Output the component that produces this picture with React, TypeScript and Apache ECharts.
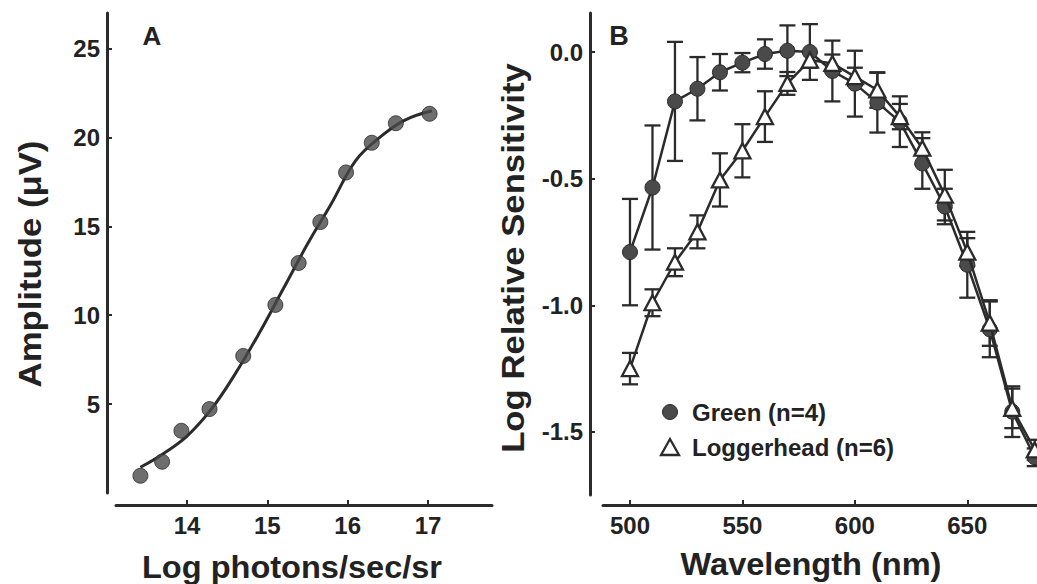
import React, { useEffect, useRef } from 'react';
import * as echarts from 'echarts';

// Panel A: intensity-response
const logPhotons = [13.42, 13.69, 13.93, 14.28, 14.7, 15.1, 15.39, 15.66, 15.98, 16.3, 16.6, 17.02];
const amplitude = [0.97, 1.76, 3.5, 4.72, 7.71, 10.58, 12.94, 15.24, 18.03, 19.7, 20.8, 21.33];
const fitLogPhotons = [13.42, 13.7, 14.0, 14.3, 14.6, 14.9, 15.2, 15.5, 15.8, 16.1, 16.4, 16.7, 17.05];
const fitAmplitude = [1.45, 2.2, 3.2, 4.7, 6.7, 9.0, 11.5, 14.0, 16.3, 18.7, 20.0, 20.95, 21.5];
const ampTicks = [5, 10, 15, 20, 25];
const photonTicks = [14, 15, 16, 17];

// Panel B: spectral sensitivity
const wavelengths = [500, 510, 520, 530, 540, 550, 560, 570, 580, 590, 600, 610, 620, 630, 640, 650, 660, 670, 680];
const greenMean = [-0.79, -0.535, -0.195, -0.145, -0.08, -0.042, -0.008, 0.005, 0.0, -0.075, -0.125, -0.2, -0.275, -0.44, -0.61, -0.84, -1.095, -1.42, -1.6];
const greenErr = [0.21, 0.245, 0.235, 0.125, 0.072, 0.038, 0.058, 0.1, 0.11, 0.12, 0.13, 0.118, 0.1, 0.1, 0.07, 0.13, 0.11, 0.1, 0.035];
const loggerMean = [-1.25, -0.99, -0.83, -0.71, -0.505, -0.39, -0.255, -0.124, -0.032, -0.045, -0.097, -0.15, -0.255, -0.38, -0.565, -0.79, -1.07, -1.407, -1.571];
const loggerErr = [0.062, 0.053, 0.055, 0.065, 0.105, 0.105, 0.1, 0.045, 0.03, 0.035, 0.035, 0.07, 0.05, 0.063, 0.1, 0.055, 0.09, 0.078, 0.04];
const wlTicks = [500, 550, 600, 650];
const sensTicks = [0, -0.5, -1, -1.5];

const FONT = '"Liberation Sans", Arial, sans-serif';
const INK = '#2b2b2b';
const TXT = '#222';

const axisLine = { show: true, onZero: false, lineStyle: { color: INK, width: 3 } };
const tickStyle = (vals: number[]) => ({ show: true, inside: true, length: 5, customValues: vals, lineStyle: { color: INK, width: 2 } });
const labelStyle = (vals: number[], margin: number, fmt?: (v: number) => string) => ({
  show: true,
  customValues: vals,
  margin,
  color: TXT,
  fontSize: 24,
  fontWeight: 'bold',
  fontFamily: FONT,
  formatter: fmt,
});

const errorRender = (params: any, api: any) => {
  const x = api.value(0);
  const lo = api.value(1);
  const hi = api.value(2);
  const p1 = api.coord([x, hi]);
  const p2 = api.coord([x, lo]);
  const hw = 8;
  const st = { stroke: INK, lineWidth: 2.3 };
  return {
    type: 'group',
    children: [
      { type: 'line', shape: { x1: p1[0], y1: p1[1], x2: p2[0], y2: p2[1] }, style: st },
      { type: 'line', shape: { x1: p1[0] - hw, y1: p1[1], x2: p1[0] + hw, y2: p1[1] }, style: st },
      { type: 'line', shape: { x1: p2[0] - hw, y1: p2[1], x2: p2[0] + hw, y2: p2[1] }, style: st },
    ],
  };
};

const titleText = (text: string, x: number, y: number, rot: number, sx: number, size = 31) => ({
  type: 'text',
  x,
  y,
  rotation: rot,
  scaleX: sx,
  style: {
    text,
    fill: TXT,
    fontSize: size,
    fontWeight: 'bold',
    fontFamily: FONT,
    textAlign: 'center',
    textVerticalAlign: 'middle',
  },
});

export default function App() {
  const ref = useRef<HTMLDivElement>(null);
  useEffect(() => {
    if (!ref.current) return;
    const chart = echarts.init(ref.current, undefined, { renderer: 'svg' });
    const option: any = {
      animation: false,
      backgroundColor: '#fff',
      grid: [
        { left: 116, top: 13, width: 376, height: 480 },
        { left: 603, top: 13, width: 434, height: 482 },
      ],
      xAxis: [
        {
          type: 'value', gridIndex: 0, min: 13.116, max: 17.797, offset: 12,
          axisLine, axisTick: tickStyle(photonTicks), axisLabel: labelStyle(photonTicks, 8),
          splitLine: { show: false },
        },
        {
          type: 'value', gridIndex: 1, min: 488, max: 681, offset: 10,
          axisLine, axisTick: tickStyle(wlTicks), axisLabel: labelStyle(wlTicks, 8),
          splitLine: { show: false },
        },
      ],
      yAxis: [
        {
          type: 'value', gridIndex: 0, min: 0, max: 27, offset: 9,
          axisLine, axisTick: tickStyle(ampTicks), axisLabel: labelStyle(ampTicks, 7),
          splitLine: { show: false },
        },
        {
          type: 'value', gridIndex: 1, min: -1.749, max: 0.154, offset: 13,
          axisLine, axisTick: tickStyle(sensTicks),
          axisLabel: labelStyle(sensTicks, 7, (v: number) => v.toFixed(1)),
          splitLine: { show: false },
        },
      ],
      series: [
        {
          name: 'Fit',
          type: 'line',
          xAxisIndex: 0, yAxisIndex: 0,
          data: fitLogPhotons.map((x, i) => [x, fitAmplitude[i]]),
          smooth: 0.4,
          showSymbol: false,
          lineStyle: { color: INK, width: 3 },
          z: 2,
        },
        {
          name: 'Amplitude',
          type: 'scatter',
          xAxisIndex: 0, yAxisIndex: 0,
          data: logPhotons.map((x, i) => [x, amplitude[i]]),
          symbol: 'circle',
          symbolSize: 15,
          itemStyle: { color: '#4a4a4a', borderColor: '#2a2a2a', borderWidth: 1 },
          z: 3,
        },
        {
          name: 'Green error',
          type: 'custom',
          xAxisIndex: 1, yAxisIndex: 1,
          data: wavelengths.map((w, i) => [w, greenMean[i] - greenErr[i], greenMean[i] + greenErr[i]]),
          encode: { x: 0, y: [1, 2] },
          renderItem: errorRender,
          z: 1,
        },
        {
          name: 'Loggerhead error',
          type: 'custom',
          xAxisIndex: 1, yAxisIndex: 1,
          data: wavelengths.map((w, i) => [w, loggerMean[i] - loggerErr[i], loggerMean[i] + loggerErr[i]]),
          encode: { x: 0, y: [1, 2] },
          renderItem: errorRender,
          z: 1,
        },
        {
          name: 'Green (n=4)',
          type: 'line',
          xAxisIndex: 1, yAxisIndex: 1,
          data: wavelengths.map((w, i) => [w, greenMean[i]]),
          symbol: 'circle',
          symbolSize: 15,
          showAllSymbol: true,
          lineStyle: { color: INK, width: 2.5 },
          itemStyle: { color: '#4a4a4a', borderColor: '#2a2a2a', borderWidth: 1 },
          z: 2,
        },
        {
          name: 'Loggerhead (n=6)',
          type: 'line',
          xAxisIndex: 1, yAxisIndex: 1,
          data: wavelengths.map((w, i) => [w, loggerMean[i]]),
          symbol: 'triangle',
          symbolSize: [16, 15],
          showAllSymbol: true,
          lineStyle: { color: INK, width: 2.5 },
          itemStyle: { color: '#ffffff', borderColor: INK, borderWidth: 2.3 },
          z: 3,
        },
      ],
      graphic: [
        titleText('Amplitude (μV)', 30, 264, Math.PI / 2, 1.12),
        titleText('Log photons/sec/sr', 292, 567, 0, 1.05),
        titleText('Log Relative Sensitivity', 513, 258, Math.PI / 2, 1.12),
        titleText('Wavelength (nm)', 811, 564, 0, 1.05),
        titleText('A', 152, 36, 0, 1, 26),
        titleText('B', 619, 36, 0, 1, 27),
        { type: 'circle', shape: { cx: 670, cy: 412, r: 7.5 }, style: { fill: '#4a4a4a', stroke: '#2a2a2a', lineWidth: 1 } },
        { type: 'polygon', shape: { points: [[670, 439], [661, 455], [679, 455]] }, style: { fill: '#fff', stroke: INK, lineWidth: 2.3 } },
        { type: 'text', x: 692, y: 412, style: { text: 'Green (n=4)', fill: TXT, fontSize: 24, fontWeight: 'bold', fontFamily: FONT, textAlign: 'left', textVerticalAlign: 'middle' } },
        { type: 'text', x: 692, y: 447, style: { text: 'Loggerhead (n=6)', fill: TXT, fontSize: 24, fontWeight: 'bold', fontFamily: FONT, textAlign: 'left', textVerticalAlign: 'middle' } },
      ],
    };
    chart.setOption(option);
    return () => chart.dispose();
  }, []);
  return (
    <div
      ref={ref}
      style={{ position: 'fixed', left: 0, top: 0, width: 1037, height: 584, background: '#fff' }}
    />
  );
}
